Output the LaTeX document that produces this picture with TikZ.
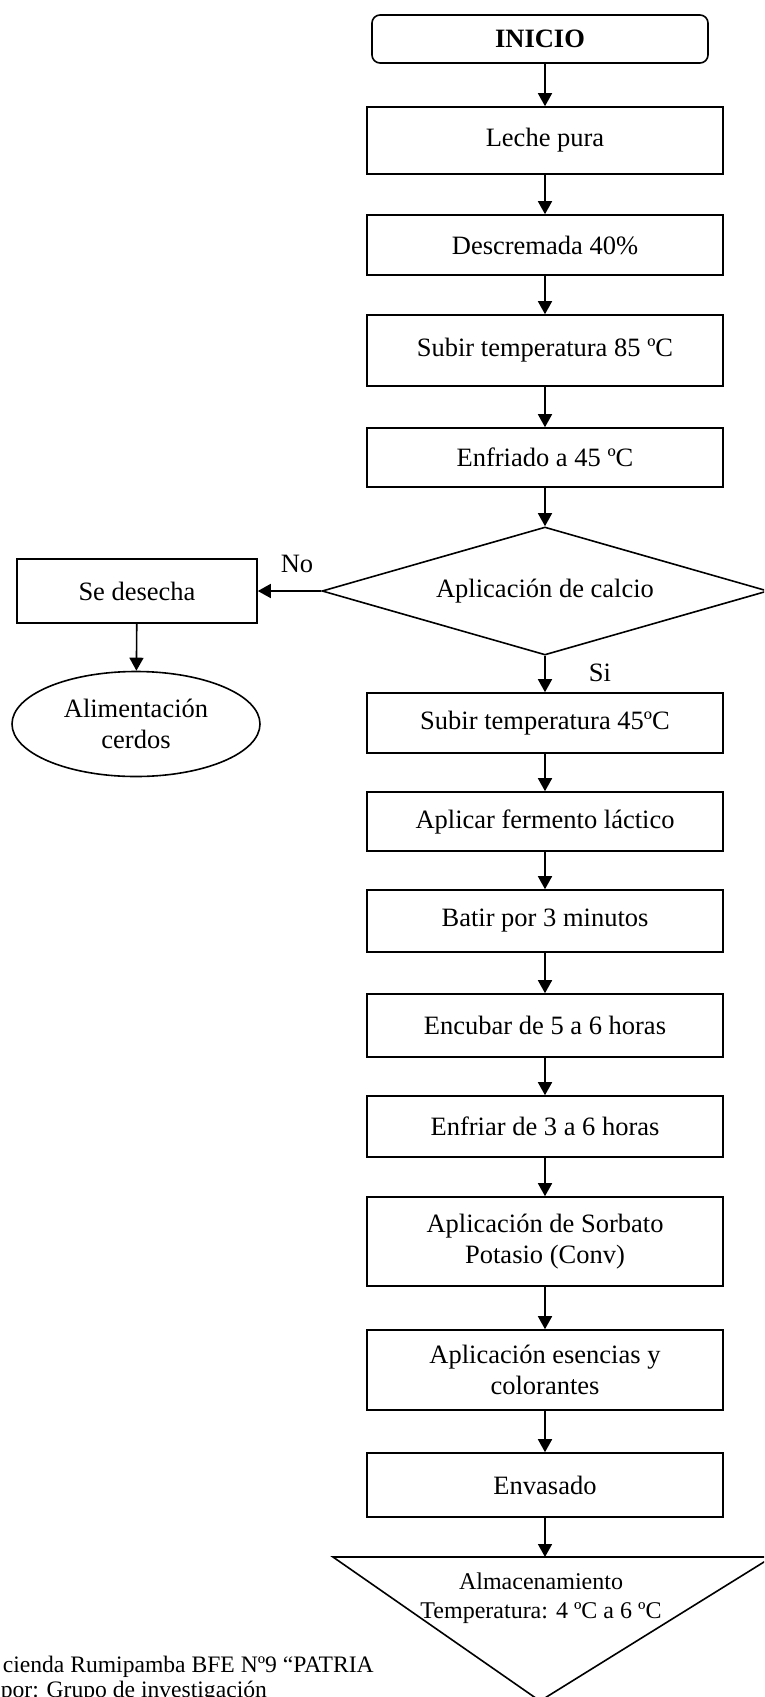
\documentclass[tikz,border=0pt]{standalone}
\usepackage{fontspec}
\setmainfont{Liberation Serif}
\usetikzlibrary{arrows.meta,shapes.geometric}
\begin{document}
\begin{tikzpicture}[x=1pt,y=-1pt,
  every node/.style={font=\fontsize{26.5}{31}\selectfont, inner sep=0pt},
  proc/.style={draw, line width=1.6pt, minimum width=356pt, align=center},
  conn/.style={line width=1.6pt, -{Triangle[length=13pt,width=14pt]}},
  lbl/.style={font=\fontsize{26.5}{31}\selectfont},
  foot/.style={font=\fontsize{23.6}{28}\selectfont, anchor=base west},
  line width=1.6pt]
\useasboundingbox (0,0) rectangle (764,1697);
\clip (0,0) rectangle (764,1697);
% main column
\node[draw, rounded corners=8pt, minimum width=336pt, minimum height=48pt,
      font=\fontsize{26.5}{31}\selectfont\bfseries] (inicio) at (540,39) {INICIO};
\node[proc, minimum height=67pt] (leche) at (545,140.5) {Leche pura};
\node[proc, minimum height=60pt] (desc) at (545,245) {Descremada 40\%};
\node[proc, minimum height=71pt] (sub85) at (545,350.5) {\raisebox{6pt}{Subir temperatura 85 ºC}};
\node[proc, minimum height=59pt] (enf45) at (545,457.5) {Enfriado a 45 ºC};
\node[diamond, draw, minimum width=446pt, minimum height=128pt, shape aspect=3.48] (calcio) at (545,591) {Aplicación de calcio};
\node[proc, minimum width=240pt, minimum height=64pt] (desecha) at (137,591) {Se desecha};
\node[ellipse, draw, minimum width=248pt, minimum height=105pt, align=center] (cerdos) at (136,724) {Alimentación\\cerdos};
\node[proc, minimum height=60pt] (sub45) at (545,723) {Subir temperatura 45ºC};
\node[proc, minimum height=59pt] (ferm) at (545,821.5) {Aplicar fermento láctico};
\node[proc, minimum height=62pt] (batir) at (545,921) {Batir por 3 minutos};
\node[proc, minimum height=63pt] (encub) at (545,1025.5) {Encubar de 5 a 6 horas};
\node[proc, minimum height=61pt] (enfriar) at (545,1126.5) {Enfriar de 3 a 6 horas};
\node[proc, minimum height=89pt] (sorb) at (545,1241.5) {Aplicación de Sorbato\\Potasio (Conv)};
\node[proc, minimum height=80pt] (esen) at (545,1370) {Aplicación esencias y\\colorantes};
\node[proc, minimum height=64pt] (envas) at (545,1485) {Envasado};
% storage triangle
\coordinate (almtop) at (545,1557);
\draw (333,1557) -- (772,1557) -- (540,1701) -- cycle;
\node[align=center, font=\fontsize{24}{29.5}\selectfont] (alm) at (541,1598) {Almacenamiento\\Temperatura: 4 ºC a 6 ºC};
% connectors
\draw[conn] (inicio.south -| leche.north) -- (leche.north);
\draw[conn] (leche) -- (desc);
\draw[conn] (desc) -- (sub85);
\draw[conn] (sub85) -- (enf45);
\draw[conn] (enf45) -- (calcio);
\draw[conn] (calcio.west) -- (desecha.east);
\draw[conn] (desecha) -- (cerdos);
\draw[conn] (calcio.south) -- (sub45.north);
\draw[conn] (sub45) -- (ferm);
\draw[conn] (ferm) -- (batir);
\draw[conn] (batir) -- (encub);
\draw[conn] (encub) -- (enfriar);
\draw[conn] (enfriar) -- (sorb);
\draw[conn] (sorb) -- (esen);
\draw[conn] (esen) -- (envas);
\draw[conn] (envas) -- (almtop);
% labels
\node[lbl] (no) at (297,564) {No};
\node[lbl] (si) at (600,673) {Si};
% footer
\node[foot] (f1) at (2,1672) {cienda Rumipamba BFE Nº9 “PATRIA};
\node[foot] (f2) at (0,1697) {por: Grupo de investigación};
\end{tikzpicture}
\end{document}
